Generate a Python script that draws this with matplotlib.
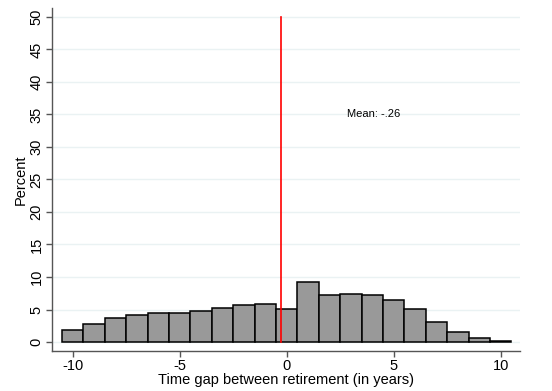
import matplotlib.pyplot as plt
import numpy as np

plt.rcParams['font.family'] = ['Liberation Sans', 'DejaVu Sans']

# histogram bins (centres, in years) and percent per bin
gap_years = list(range(-10, 11))
percent = [1.9, 2.8, 3.7, 4.2, 4.5, 4.4, 4.7, 5.3, 5.7, 5.8, 5.1,
           9.3, 7.3, 7.4, 7.2, 6.5, 5.1, 3.1, 1.5, 0.6, 0.15]
mean_gap = -0.26
y_ticks = list(range(0, 55, 5))
x_ticks = [-10, -5, 0, 5, 10]

fig = plt.figure(figsize=(5.52, 3.91), dpi=100)
ax = fig.add_axes([0.094, 0.102, 0.848, 0.878])

ax.bar(gap_years, percent, width=1.0, color='#999999', edgecolor='black',
       linewidth=1.1, zorder=3)

# mean marker
ax.plot([mean_gap, mean_gap], [0, 50], color='red', linewidth=1.2, zorder=4)
ax.text(4.05, 35, 'Mean: -.26', ha='center', va='center', fontsize=8, zorder=5)

ax.set_xlim(-10.97, 10.9)
ax.set_ylim(-1.4, 51.4)
ax.set_yticks(y_ticks)
ax.set_xticks(x_ticks)
ax.set_xticklabels([str(t) for t in x_ticks], fontsize=10.5)
ax.set_yticklabels([str(t) for t in y_ticks], fontsize=10.5, rotation=90, va='center')
ax.yaxis.grid(True, color='#eaf2f3', linewidth=1.0, zorder=0)
ax.set_axisbelow(True)

for s in ['top', 'right']:
    ax.spines[s].set_visible(False)
for s in ['left', 'bottom']:
    ax.spines[s].set_color('#555555')
    ax.spines[s].set_linewidth(1.0)
ax.tick_params(direction='out', length=4, color='#555555', width=1.0, pad=2)

ax.set_xlabel('Time gap between retirement (in years)', fontsize=10.5, labelpad=0)
ax.set_ylabel('Percent', fontsize=10.5, labelpad=1)

fig.savefig('out.png', dpi=100)
